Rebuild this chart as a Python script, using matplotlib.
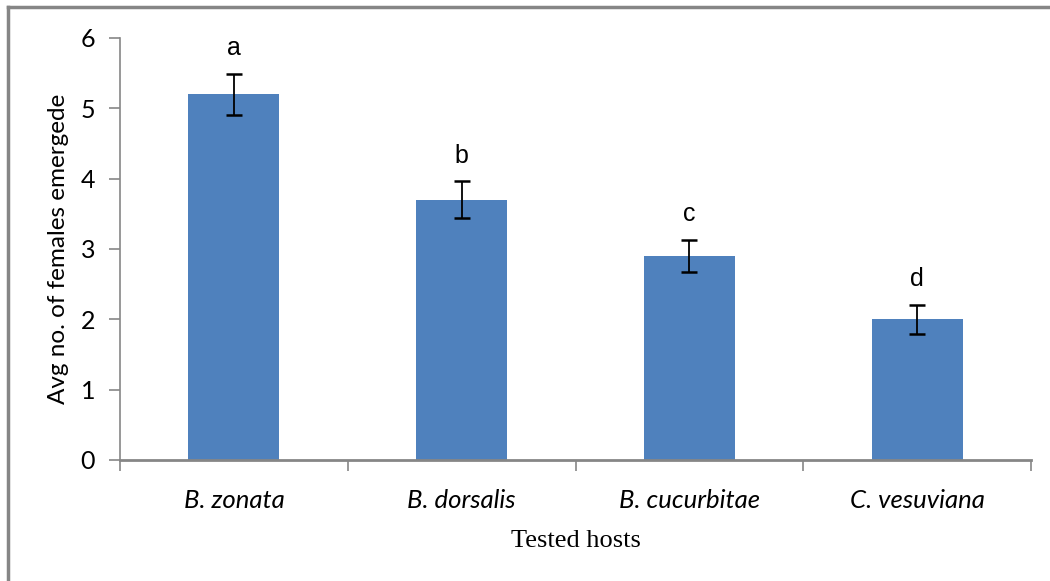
import numpy as np
import matplotlib
matplotlib.use("Agg")
import matplotlib.pyplot as plt
from matplotlib.lines import Line2D

hosts = ["B. zonata", "B. dorsalis", "B. cucurbitae", "C. vesuviana"]
females = [5.2, 3.7, 2.9, 2.0]
errors = [0.29, 0.26, 0.23, 0.21]
letters = ["a", "b", "c", "d"]

bar_color = "#4F81BD"
axis_color = "#868686"

fig = plt.figure(figsize=(10.5, 5.81), dpi=100)
ax = fig.add_axes([0.1143, 0.2083, 0.8676, 0.7263])

x = np.arange(len(hosts))
ax.bar(x, females, width=0.4, color=bar_color, zorder=2)
ax.errorbar(x, females, yerr=errors, fmt="none", ecolor="black",
            elinewidth=1.3, capsize=6, capthick=1.8, zorder=3)

# significance letters above the error bars
for xi, m, e, lt in zip(x, females, errors, letters):
    ax.annotate(lt, (xi, m + e), xytext=(0, 10), textcoords="offset points",
                ha="center", va="bottom", fontsize=18, family="Liberation Sans")

ax.set_xlim(-0.5, len(hosts) - 0.5)
ax.set_ylim(0, 6)
ax.set_yticks(range(0, 7))
ax.set_yticklabels([str(v) for v in range(0, 7)], family="Lato", fontsize=18)

# category boundary ticks, labels in the middle
ax.set_xticks(np.arange(len(hosts) + 1) - 0.5)
ax.set_xticklabels([])
ax.set_xticks(x, minor=True)
ax.set_xticklabels(hosts, minor=True, family="Lato", style="italic", fontsize=18.5)
ax.tick_params(axis="x", which="minor", length=0, pad=21)
ax.tick_params(axis="x", which="major", length=8, color=axis_color, width=1.2)
ax.tick_params(axis="y", length=8, color=axis_color, width=1.2, pad=10)

for side in ["top", "right"]:
    ax.spines[side].set_visible(False)
for side in ["left", "bottom"]:
    ax.spines[side].set_color(axis_color)
    ax.spines[side].set_linewidth(1.2)
ax.spines["bottom"].set_linewidth(2)

ax.set_ylabel("Avg no. of females emergede", family="Lato", fontsize=17.5, labelpad=8)
ax.set_xlabel("Tested hosts", family="Liberation Serif", fontsize=19, labelpad=13)

# grey frame on top and left of the picture
fig.add_artist(Line2D([0.008, 1.0], [0.988, 0.988], color=axis_color, lw=2.5,
                      transform=fig.transFigure))
fig.add_artist(Line2D([0.008, 0.008], [0.0, 0.988], color=axis_color, lw=2.5,
                      transform=fig.transFigure))

fig.savefig("out.png", dpi=100)
